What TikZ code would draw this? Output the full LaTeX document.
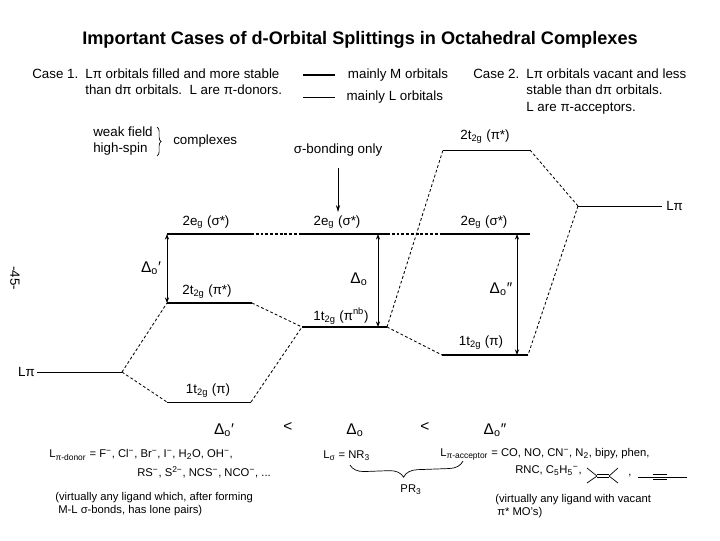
\documentclass[tikz,border=0pt]{standalone}
\usepackage{fontspec}
\setmainfont{Liberation Sans}
\usetikzlibrary{positioning, arrows.meta, decorations.pathreplacing, calc}

\begin{document}
\begin{tikzpicture}[x=0.025cm, y=-0.025cm,
    every node/.style={inner sep=0pt, font=\fontsize{9.5}{12}\selectfont},
    mlevel/.style={line width=2pt},
    llevel/.style={line width=0.6pt},
    corr/.style={line width=0.6pt, dash pattern=on 2pt off 1.6pt},
    link/.style={line width=1.1pt, dash pattern=on 2pt off 1.4pt},
    gap/.style={{Stealth[length=4pt,width=3pt]}-{Stealth[length=4pt,width=3pt]}, line width=0.6pt},
    small/.style={font=\fontsize{8}{10}\selectfont},
    delta/.style={font=\fontsize{11}{13}\selectfont}]
  \useasboundingbox (0,0) rectangle (720,540);

  \node[font=\fontsize{12.9}{15}\selectfont\bfseries] (title) at (360,40)
    {Important Cases of d-Orbital Splittings in Octahedral Complexes};
  \node[anchor=north west] (case1) at (32,66) {\begin{tabular}{@{}l@{\hspace{5pt}}l@{}}
    Case 1. & Lπ orbitals filled and more stable\\
            & than dπ orbitals.\ \ L are π-donors.\end{tabular}};
  \node[anchor=north west] (case2) at (473,66) {\begin{tabular}{@{}l@{\hspace{5pt}}l@{}}
    Case 2. & Lπ orbitals vacant and less\\
            & stable than dπ orbitals.\\
            & L are π-acceptors.\end{tabular}};

  % legend
  \coordinate (mkeyA) at (303,75);
  \coordinate (mkeyB) at (335,75);
  \coordinate (lkeyA) at (303,97);
  \coordinate (lkeyB) at (335,97);
  \draw[mlevel] (mkeyA) -- (mkeyB);
  \draw[llevel] (lkeyA) -- (lkeyB);
  \node[right=9pt of mkeyB] (mkey) {mainly M orbitals};
  \node[right=8pt of lkeyB] (lkey) {mainly L orbitals};

  \node[anchor=west, align=left] (weak) at (93,141) {weak field\\high-spin};
  \coordinate (wbA) at (157,127);
  \coordinate (wbB) at (157,156);
  \draw[line width=0.5pt, decorate, decoration={brace, amplitude=3pt}] (wbA) -- (wbB);
  \node[anchor=west] (cplx) at (173,141) {complexes};
  \node (sigma) at (338,150) {σ-bonding only};
  \coordinate (sigtip) at (338,212);
  \draw[-{Stealth[length=5pt,width=3pt]}, line width=0.6pt, shorten <=8pt] (sigma) -- (sigtip);
  \node[rotate=-90] (pagenum) at (15,278) {-45-};

  % levels
  \coordinate (egLl) at (167,234);  \coordinate (egLr) at (251,234);
  \coordinate (tLl) at (167,303);   \coordinate (tLr) at (252,303);
  \coordinate (piLl) at (37,372);   \coordinate (piLr) at (122,372);
  \coordinate (tbLl) at (167,402);  \coordinate (tbLr) at (251,402);
  \coordinate (egMl) at (302,234);  \coordinate (egMr) at (387,234);
  \coordinate (tMl) at (302,327);   \coordinate (tMr) at (387,327);
  \coordinate (tsRl) at (443,150);  \coordinate (tsRr) at (530,150);
  \coordinate (egRl) at (442,234);  \coordinate (egRr) at (530,234);
  \coordinate (tRl) at (442,355);   \coordinate (tRr) at (528,355);
  \coordinate (piRl) at (578,206);  \coordinate (piRr) at (662,206);
  \foreach \a/\b in {egLl/egLr, tLl/tLr, egMl/egMr, tMl/tMr, egRl/egRr, tRl/tRr}
    \draw[mlevel] (\a) -- (\b);
  \foreach \a/\b in {piLl/piLr, tbLl/tbLr, tsRl/tsRr, piRl/piRr}
    \draw[llevel] (\a) -- (\b);
  \foreach \a/\b in {egLr/egMl, egMr/egRl}
    \draw[link] (\a) -- (\b);
  \foreach \a/\b in {piLr/tLl, piLr/tbLl, tLr/tMl, tbLr/tMl, tMr/tRl, tMr/tsRl, tsRr/piRl, piRl/tRr}
    \draw[corr] (\a) -- (\b);

  \node (egLlab) at (206,222) {2e\textsubscript{g} (σ*)};
  \node (tLlab) at (207,292) {2t\textsubscript{2g} (π*)};
  \node (tbLlab) at (208,391) {1t\textsubscript{2g} (π)};
  \node (egMlab) at (337,222) {2e\textsubscript{g} (σ*)};
  \node (tMlab) at (341,316) {1t\textsubscript{2g} (π\textsuperscript{nb})};
  \node (tsRlab) at (485,137) {2t\textsubscript{2g} (π*)};
  \node (egRlab) at (484,222) {2e\textsubscript{g} (σ*)};
  \node (tRlab) at (481,343) {1t\textsubscript{2g} (π)};
  \node[anchor=east] (piLlab) at (35,372) {Lπ};
  \node[anchor=west] (piRlab) at (666,206) {Lπ};

  % splittings
  \coordinate (gapLa) at (167,234);  \coordinate (gapLb) at (167,303);
  \coordinate (gapMa) at (378,234);  \coordinate (gapMb) at (378,327);
  \coordinate (gapRa) at (517,234);  \coordinate (gapRb) at (517,355);
  \foreach \a/\b in {gapLa/gapLb, gapMa/gapMb, gapRa/gapRb}
    \draw[gap] (\a) -- (\b);
  \node[delta] (dLlab) at (151,268) {Δ\textsubscript{o}′};
  \node[delta] (dMlab) at (359,279) {Δ\textsubscript{o}};
  \node[delta] (dRlab) at (501,289) {Δ\textsubscript{o}″};

  % ordering
  \node[delta] (dA) at (224,430) {Δ\textsubscript{o}′};
  \node[delta] (ltA) at (288,427) {<};
  \node[delta] (dB) at (355,430) {Δ\textsubscript{o}};
  \node[delta] (ltB) at (425,427) {<};
  \node[delta] (dC) at (495,430) {Δ\textsubscript{o}″};

  \node[small, anchor=west] (donA) at (49,455)
    {L\textsubscript{π-donor} = F\textsuperscript{−}, Cl\textsuperscript{−}, Br\textsuperscript{−}, I\textsuperscript{−}, H\textsubscript{2}O, OH\textsuperscript{−},};
  \node[small, anchor=west] (donB) at (137,472)
    {RS\textsuperscript{−}, S\textsuperscript{2−}, NCS\textsuperscript{−}, NCO\textsuperscript{−}, ...};
  \node[small, anchor=west] (donC) at (55,498) {(virtually any ligand which, after forming};
  \node[small, anchor=west] (donD) at (58,511) {M-L σ-bonds, has lone pairs)};
  \node[small, anchor=west] (sig) at (323,456) {L\textsubscript{σ} = NR\textsubscript{3}};
  \node[small, anchor=west] (accA) at (440,454)
    {L\textsubscript{π-acceptor} = CO, NO, CN\textsuperscript{−}, N\textsubscript{2}, bipy, phen,};
  \node[small, anchor=west] (accB) at (515,471) {RNC, C\textsubscript{5}H\textsubscript{5}\textsuperscript{−},};
  \node[small, anchor=west] (accC) at (495,500) {(virtually any ligand with vacant};
  \node[small, anchor=west] (accD) at (497,513) {π* MO's)};

  % PR3 brace
  \coordinate (prA) at (350,465);
  \coordinate (prB) at (463,461);
  \draw[line width=0.5pt, decorate, decoration={brace, mirror, amplitude=10pt, aspect=0.47}] (prA) -- (prB);
  \node[small] (pr3) at (411,490) {PR\textsubscript{3}};

  % alkene and alkyne
  \coordinate (eneA) at (597,476);
  \coordinate (eneB) at (609,476);
  \draw[line width=0.5pt] (eneA) -- ++(-10,-8) (eneA) -- ++(-10,7)
    (eneB) -- ++(9,-8) (eneB) -- ++(9,7);
  \draw[line width=0.5pt] ([yshift=1.1pt]eneA) -- ([yshift=1.1pt]eneB)
    ([yshift=-1.1pt]eneA) -- ([yshift=-1.1pt]eneB);
  \node[small] (comma) at (630,476) {,};
  \coordinate (yneA) at (638,477);
  \coordinate (yneB) at (653,477);
  \coordinate (yneC) at (667,477);
  \coordinate (yneD) at (687,477);
  \draw[line width=0.5pt] (yneA) -- (yneD);
  \draw[line width=0.5pt] ([yshift=1.6pt]yneB) -- ([yshift=1.6pt]yneC)
    ([yshift=-1.6pt]yneB) -- ([yshift=-1.6pt]yneC);
\end{tikzpicture}
\end{document}
